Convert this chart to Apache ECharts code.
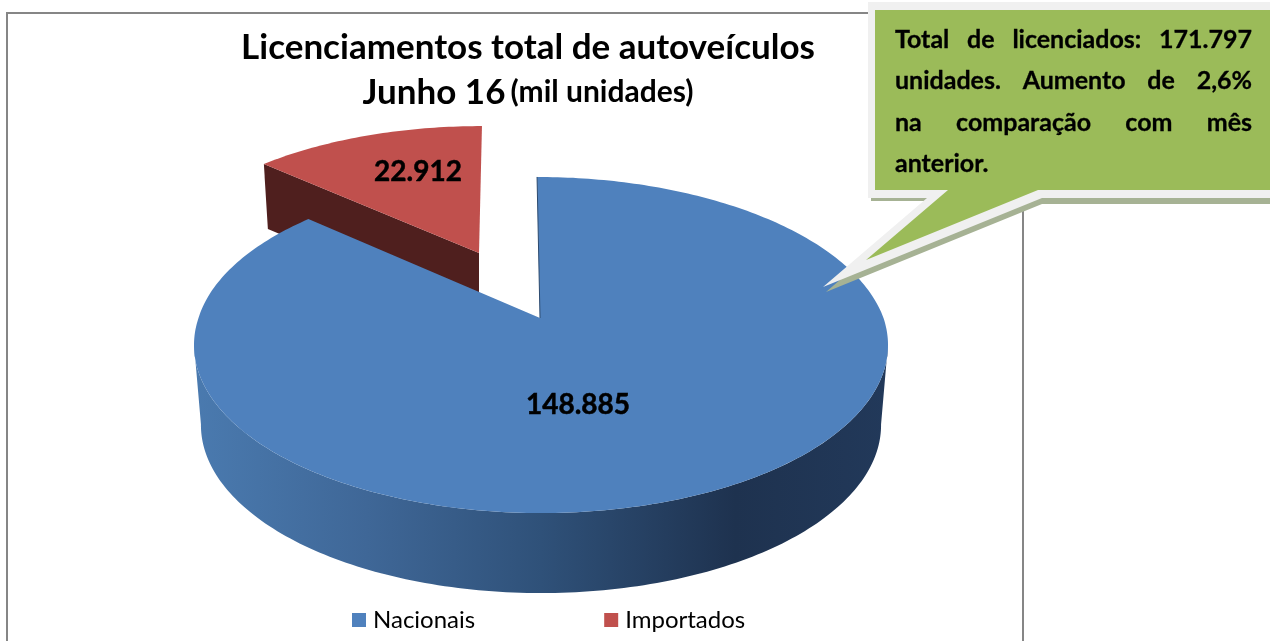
<!DOCTYPE html>
<html><head><meta charset="utf-8">
<style>html,body{margin:0;padding:0;background:#fff}#c{width:1270px;height:641px}</style>
<script src="https://cdn.jsdelivr.net/npm/echarts@6/dist/echarts.min.js"></script>
</head><body><div id="c"></div>
<script>
const categories = ['Nacionais', 'Importados'];
const values = [148885, 22912];
const titleLine1 = 'Licenciamentos total de autoveículos';
const titleLine2 = 'Junho 16';
const titleUnit = '(mil unidades)';
const calloutLines = ['Total de licenciados: 171.797', 'unidades. Aumento de 2,6%', 'na comparação com mês', 'anterior.'];

const FONT = 'Lato, Carlito, sans-serif';
const total = values[0] + values[1];
const sweep = 360 * values[0] / total;
const rad = d => d * Math.PI / 180;
const C = 0.1607;
const apex = [540, 318];
function proj(t) {
  const u = Math.sin(rad(t)), v = Math.cos(rad(t)), w = 1 + C * v;
  const y = (318 - 112.6 * v) / w;
  const skew = y < apex[1] ? (apex[1] - y) * 0.028 : 0;
  return [541 + 342.5 * u / w - skew, y];
}
function arc(a, b, f) {
  const pts = [], n = Math.ceil(Math.abs(b - a));
  for (let i = 0; i <= n; i++) pts.push(f(a + (b - a) * i / n));
  return pts;
}
const bottom = t => { const p = proj(t); return [541 + (p[0] - 541) * 0.98, p[1] + 80]; };
const redApex = [479, 253];
const redProj = t => {
  const p = proj(t);
  return [redApex[0] + 0.945 * (p[0] - apex[0] - 1) + (apex[1] - p[1]) * 0.0475, redApex[1] + 0.9 * (p[1] - apex[1])];
};
const labelStyle = { fill: '#000', stroke: '#000', lineWidth: 0.5, font: 'bold 28px ' + FONT, align: 'center', verticalAlign: 'middle' };

function renderBlue(params, api) {
  const label = api.value(0).toLocaleString('pt-BR');
  const wall = arc(99, 261, proj).concat(arc(261, 99, bottom));
  return { type: 'group', children: [
    { type: 'polygon', shape: { points: wall }, style: { fill: { type: 'linear', x: 194, y: 0, x2: 888, y2: 0, global: true, colorStops: [
      { offset: 0, color: '#4a7aaf' }, { offset: 0.25, color: '#3f6797' }, { offset: 0.5, color: '#2f5179' },
      { offset: 0.78, color: '#1e324f' }, { offset: 1, color: '#22395a' } ] } } },
    { type: 'polygon', shape: { points: [apex].concat(arc(0, sweep, proj)) }, style: { fill: '#4f81bd' } },
    { type: 'line', shape: { x1: proj(0)[0], y1: proj(0)[1], x2: apex[0], y2: apex[1] }, style: { stroke: '#2c4a6e', lineWidth: 1 } },
    { type: 'text', x: 578, y: 405, style: Object.assign({ text: label }, labelStyle) }
  ] };
}
function renderRed(params, api) {
  const label = api.value(0).toLocaleString('pt-BR');
  const c = redProj(sweep);
  return { type: 'group', children: [
    { type: 'polygon', shape: { points: [c, redApex, [redApex[0], redApex[1] + 65], [c[0] + 4, c[1] + 65]] }, style: { fill: '#4f1f1e' } },
    { type: 'polygon', shape: { points: [redApex].concat(arc(sweep, 360, redProj)) }, style: { fill: '#c0504d' } },
    { type: 'text', x: 418, y: 172, style: Object.assign({ text: label }, labelStyle) }
  ] };
}

// justified callout text
const mc = document.createElement('canvas').getContext('2d');
const calloutFont = 'bold 25px ' + FONT;
mc.font = calloutFont;
const calloutEls = [];
calloutLines.forEach((ln, i) => {
  const words = ln.split(' ');
  const L = 895, R = 1252, y = 40 + i * 41.4;
  const w = words.map(s => mc.measureText(s).width);
  const sum = w.reduce((a, b) => a + b, 0);
  const gap = i === calloutLines.length - 1 ? 0 : (R - L - sum) / (words.length - 1);
  let x = L;
  words.forEach((s, k) => {
    calloutEls.push({ type: 'text', z: 20, x, y, style: { text: s, font: calloutFont, fill: '#000', stroke: '#000', lineWidth: 0.3, align: 'left', verticalAlign: 'middle' } });
    x += w[k] + gap;
  });
});

const chart = echarts.init(document.getElementById('c'), null, { renderer: 'canvas' });
const rich = (size) => ({ fontFamily: FONT, fontWeight: 'bold', fontSize: size, color: '#000', lineHeight: 45 });
chart.setOption({
  animation: false,
  backgroundColor: '#fff',
  title: {
    left: 523, top: 20, textAlign: 'center',
    text: '{a|' + titleLine1 + '}\n{a|' + titleLine2 + '} {c|' + titleUnit + '}',
    textStyle: { rich: { a: rich(35), c: rich(30) } }
  },
  legend: {
    data: categories, left: 347, top: 603, icon: 'rect', itemWidth: 14, itemHeight: 14, itemGap: 129, selectedMode: false,
    textStyle: { fontFamily: FONT, fontSize: 24, color: '#000', padding: [0, 0, 0, 2] }
  },
  graphic: { elements: [
    { type: 'rect', z: -1, shape: { x: 7, y: 13, width: 1016, height: 640 }, style: { fill: '#fff', stroke: '#868686', lineWidth: 2 } },
    { type: 'polygon', z: 15, shape: { points: [[871, 201], [931, 201], [826, 292], [1042, 204], [1275, 204], [1275, 100], [871, 100]] }, style: { fill: '#a6b294' } },
    { type: 'polygon', z: 16, shape: { points: [[868, 2], [1275, 2], [1275, 198], [1042, 198], [823, 287], [927, 198], [868, 198]] }, style: { fill: '#f0f0f0' } },
    { type: 'polygon', z: 17, shape: { points: [[875, 10], [1275, 10], [1275, 190], [1038, 190], [866, 260], [948, 190], [875, 190]] }, style: { fill: '#9bbb59' } }
  ].concat(calloutEls) },
  series: [
    { name: categories[1], type: 'custom', coordinateSystem: 'none', z: 2, itemStyle: { color: '#c0504d' }, renderItem: renderRed, data: [[values[1]]] },
    { name: categories[0], type: 'custom', coordinateSystem: 'none', z: 3, itemStyle: { color: '#4f81bd' }, renderItem: renderBlue, data: [[values[0]]] }
  ]
});
</script></body></html>
